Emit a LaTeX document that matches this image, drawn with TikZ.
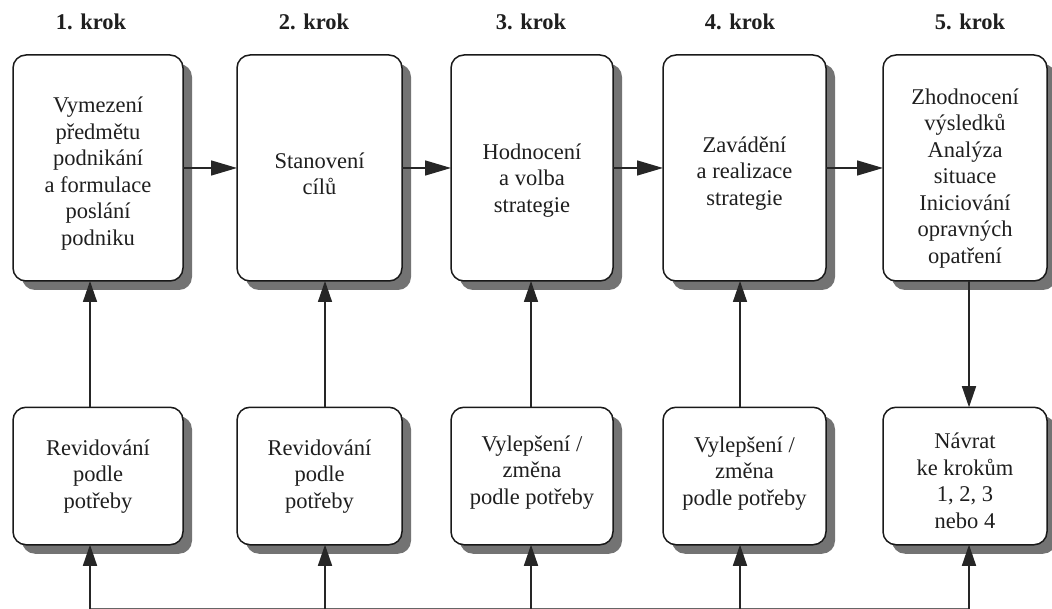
\documentclass[tikz,border=0pt]{standalone}
\usepackage{fontspec}
\setmainfont{Liberation Serif}
\usetikzlibrary{arrows.meta,shadows,calc}
\begin{document}
\begin{tikzpicture}[x=1pt,y=-1pt,
  boxstyle/.style={draw=black!90, line width=1.5pt, rounded corners=13pt, fill=white,
    inner sep=0pt, outer sep=0pt,
    drop shadow={shadow xshift=9pt, shadow yshift=-9pt, fill=black!55, opacity=1}},
  topbox/.style={boxstyle, minimum height=226pt},
  botbox/.style={boxstyle, minimum height=137.5pt},
  txt/.style={align=center, inner sep=0pt, text=black!88,
    font=\fontsize{22.5}{26.5}\selectfont},
  head/.style={anchor=base, inner sep=0pt, text=black!88,
    font=\fontsize{22.5}{26.5}\selectfont\bfseries},
  harr/.style={-{Triangle[length=26pt,width=15pt]}, line width=1.5pt, draw=black!85, fill=black!85},
  varr/.style={-{Triangle[length=21pt,width=14pt]}, line width=1.5pt, draw=black!85, fill=black!85},
  plain/.style={line width=1.2pt, draw=black!60}]
\useasboundingbox (0,0) rectangle (1052,609);

% headings
\node[head] (h1) at (91,30) {1. krok};
\node[head] (h2) at (314,30) {2. krok};
\node[head] (h3) at (531,30) {3. krok};
\node[head] (h4) at (740,30) {4. krok};
\node[head] (h5) at (970,30) {5. krok};

% top boxes
\node[topbox, minimum width=170pt] (t1) at (98,168) {};
\node[topbox, minimum width=165pt] (t2) at (319.5,168) {};
\node[topbox, minimum width=162pt] (t3) at (532,168) {};
\node[topbox, minimum width=163pt] (t4) at (744.5,168) {};
\node[topbox, minimum width=164pt] (t5) at (965,168) {};

% bottom boxes
\node[botbox, minimum width=170pt] (r1) at (98,476) {};
\node[botbox, minimum width=165pt] (r2) at (319.5,476) {};
\node[botbox, minimum width=162pt] (r3) at (532,476) {};
\node[botbox, minimum width=163pt] (r4) at (744.5,476) {};
\node[botbox, minimum width=164pt] (r5) at (965,476) {};

% texts
\node[txt] (l1) at (98,173.5) {Vymezení\\předmětu\\podnikání\\a formulace\\poslání\\podniku};
\node[txt] (l2) at (319.5,174) {Stanovení\\cílů};
\node[txt] (l3) at (532,180.5) {Hodnocení\\a volba\\strategie};
\node[txt] (l4) at (744.5,173.5) {Zavádění\\a realizace\\strategie};
\node[txt] (l5) at (965,178.5) {Zhodnocení\\výsledků\\Analýza\\situace\\Iniciování\\opravných\\opatření};

\node[txt] (m1) at (98,476.5) {Revidování\\podle\\potřeby};
\node[txt] (m2) at (319.5,476.5) {Revidování\\podle\\potřeby};
\node[txt] (m3) at (532,472.5) {Vylepšení /\\změna\\podle potřeby};
\node[txt] (m4) at (744.5,473.5) {Vylepšení /\\změna\\podle potřeby};
\node[txt] (m5) at (965,481) {Návrat\\ke krokům\\1, 2, 3\\nebo 4};

% horizontal arrows
\draw[harr] (t1.east) -- (t2.west);
\draw[harr] (t2.east) -- (t3.west);
\draw[harr] (t3.east) -- (t4.west);
\draw[harr] (t4.east) -- (t5.west);

% bottom line coordinates
\coordinate (c1) at (90,608.5);
\coordinate (c2) at (325,608.5);
\coordinate (c3) at (531,608.5);
\coordinate (c4) at (740,608.5);
\coordinate (c5) at (969,608.5);

\draw[plain] (c1) -- (c5);

% vertical arrows
\draw[varr] (r1.north -| c1) -- (t1.south -| c1);
\draw[varr] (r2.north -| c2) -- (t2.south -| c2);
\draw[varr] (r3.north -| c3) -- (t3.south -| c3);
\draw[varr] (r4.north -| c4) -- (t4.south -| c4);
\draw[varr] (t5.south -| c5) -- (r5.north -| c5);

\draw[varr] (c1) -- (c1 |- r1.south);
\draw[varr] (c2) -- (c2 |- r2.south);
\draw[varr] (c3) -- (c3 |- r3.south);
\draw[varr] (c4) -- (c4 |- r4.south);
\draw[varr] (c5) -- (c5 |- r5.south);
\end{tikzpicture}
\end{document}
